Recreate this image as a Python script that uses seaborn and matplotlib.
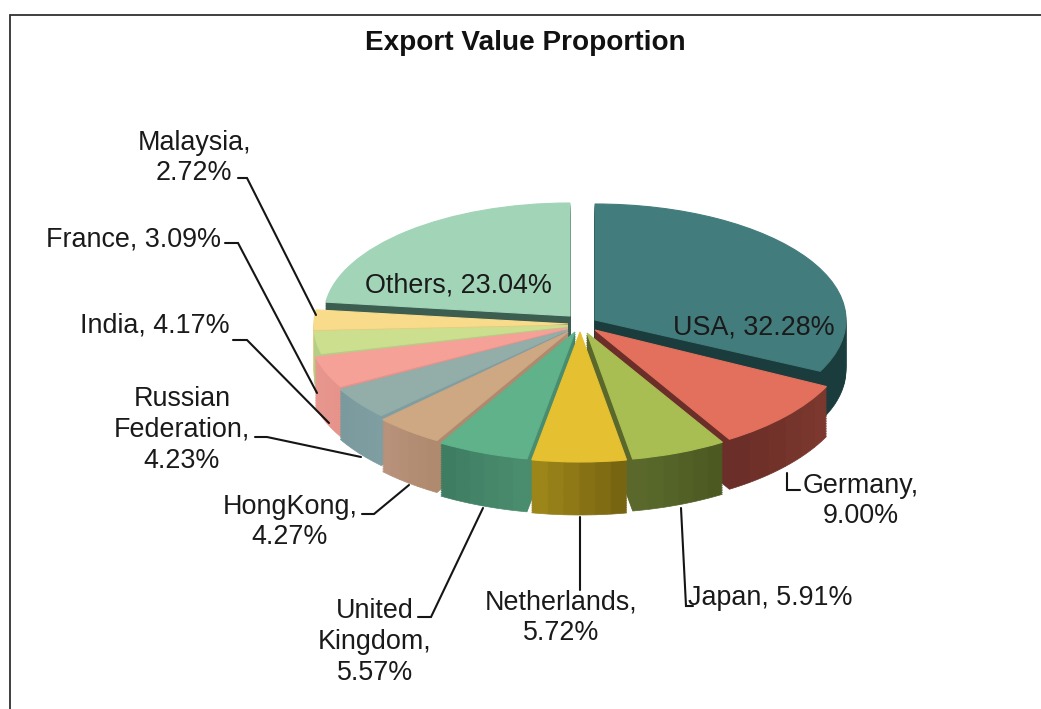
import matplotlib
matplotlib.use("Agg")
import matplotlib.pyplot as plt
from matplotlib.transforms import Affine2D
import seaborn as sns
import numpy as np

# Data
countries = ['USA', 'Germany', 'Japan', 'Netherlands', 'United Kingdom', 'HongKong',
             'Russian Federation', 'India', 'France', 'Malaysia', 'Others']
shares = [32.28, 9.00, 5.91, 5.72, 5.57, 4.27, 4.23, 4.17, 3.09, 2.72, 23.04]

label_texts = ['USA, 32.28%', 'Germany,\n9.00%', 'Japan, 5.91%', 'Netherlands,\n5.72%',
               'United\nKingdom,\n5.57%', 'HongKong,\n4.27%', 'Russian\nFederation,\n4.23%',
               'India, 4.17%', 'France, 3.09%', 'Malaysia,\n2.72%', 'Others, 23.04%']

# Colours of the top faces and of the walls (start / end, clockwise)
top_colors = ['#437C7C', '#E2705C', '#A9BE52', '#E5C132', '#5FB28A', '#CEA783',
              '#93ADA9', '#F6A198', '#CBDF8F', '#F8DC8C', '#A2D4B8']
wall_from = ['#1F4646', '#7C382E', '#4C5A22', '#786512', '#4A8C6E', '#B08A6E',
             '#7E9EA2', '#E5938B', '#B5CE85', '#E8CC7E', '#3C5E50']
wall_to = ['#1A3C3D', '#6B2E28', '#5A692B', '#9C8619', '#3F7D62', '#B8927A',
           '#7A9A9E', '#E8978F', '#B5CE85', '#E8CC7E', '#3C5E50']

# Layout of each slice in pixels: tip of the slice, radii, wall depth
tip_x = [595, 595, 587, 580, 575, 568, 568, 568, 568, 568, 570]
tip_y = [320, 330, 333, 332, 332, 332, 330, 328, 326, 324, 316]
rad_x = [251, 258, 260, 265, 264, 258, 260, 260, 254, 254, 246]
rad_y = [116, 128, 128, 130, 129, 126, 123, 121, 115, 115, 113]
depth = [50, 50, 52, 53, 53, 52, 50, 50, 48, 48, 46]

# Label centres in pixels
label_x = [754, 861, 770, 561, 375, 290, 182, 155, 134, 194, 458]
label_y = [327, 501, 598, 618, 642, 522, 430, 325, 239, 158, 285]

# Leader lines in pixels, slices without a line have None
leaders = [None,
           [(787, 473), (787, 490), (800, 490)],
           [(681, 508), (686, 606), (693, 606)],
           [(580, 517), (580, 590)],
           [(483, 508), (431, 617), (418, 617)],
           [(409, 485), (374, 514), (362, 514)],
           [(361, 457), (267, 437), (255, 437)],
           [(329, 423), (247, 340), (233, 340)],
           [(317, 393), (238, 243), (225, 243)],
           [(316, 315), (247, 178), (238, 178)],
           None]

sns.set_theme(style='white')
plt.rcParams['font.family'] = ['Liberation Sans', 'DejaVu Sans']

fig = plt.figure(figsize=(10.41, 7.09), dpi=100, facecolor='white')
ax = fig.add_axes([0, 0, 1, 1])

N_SUB = 6
sub_values = np.repeat(np.array(shares) / N_SUB, N_SUB)
wall_colors = []
for c0, c1 in zip(wall_from, wall_to):
    wall_colors += sns.blend_palette([c0, c1], N_SUB)


def place(wedges, n_per_slice, lift):
    # every wedge gets the ellipse and position of its slice
    for k, w in enumerate(wedges):
        i = k // n_per_slice
        t = Affine2D().scale(rad_x[i], -rad_y[i]).translate(tip_x[i], tip_y[i] + depth[i] * lift)
        w.set_transform(t + ax.transData)
        w.set_edgecolor(w.get_facecolor())


# Walls, from the bottom layer upwards
for lift in np.linspace(1, 0.04, 30):
    wedges, _ = ax.pie(sub_values, colors=wall_colors, startangle=90, counterclock=False,
                       wedgeprops={'linewidth': 0.5})
    place(wedges, N_SUB, lift)

# Top faces
wedges, _ = ax.pie(shares, colors=top_colors, startangle=90, counterclock=False,
                   wedgeprops={'linewidth': 0.8})
place(wedges, 1, 0)

ax.set_aspect('auto')
ax.set_xlim(0, 1041)
ax.set_ylim(709, 0)
ax.axis('off')

# Chart frame, only left and top are inside the picture
ax.plot([10, 10, 1041], [709, 15, 15], color='#303030', lw=1.3, solid_joinstyle='miter')

for points in leaders:
    if points is not None:
        xs, ys = zip(*points)
        ax.plot(xs, ys, color='#151515', lw=1.5, solid_joinstyle='miter')

for text, x, y in zip(label_texts, label_x, label_y):
    ax.text(x, y, text, ha='center', va='center', multialignment='center',
            fontsize=19.4, color='#1a1a1a', linespacing=1.24)

ax.text(525, 43, 'Export Value Proportion', ha='center', va='center',
        fontsize=20.1, fontweight='bold', color='#111111')

fig.savefig('out.png', dpi=100)
